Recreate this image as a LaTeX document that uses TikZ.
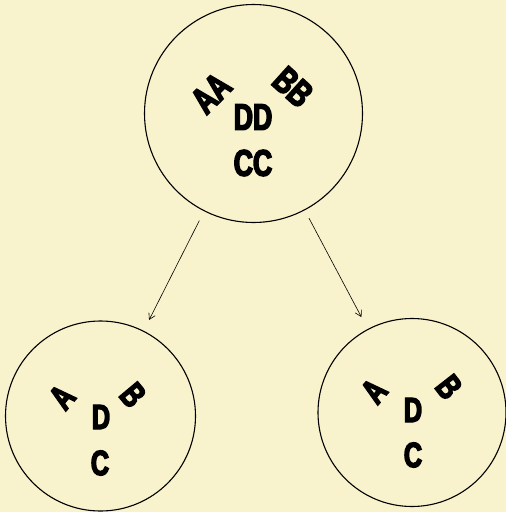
\documentclass[tikz,border=0pt]{standalone}
\usepackage{fontspec}
\newfontfamily\lett{Liberation Sans}[FakeStretch=0.72,FakeBold=4]
\usetikzlibrary{arrows.meta}
\definecolor{bg}{RGB}{248,242,205}
\begin{document}
\begin{tikzpicture}[x=1pt,y=-1pt,
  cell/.style={circle,draw,line width=1.1pt,inner sep=0pt,outer sep=0pt},
  lbl/.style={font=\lett\bfseries\fontsize{37}{37}\selectfont,inner sep=0pt},
  slbl/.style={font=\lett\bfseries\fontsize{35}{35}\selectfont,inner sep=0pt},
  link/.style={line width=0.6pt,-{Straight Barb[length=6pt,width=7pt]}}]
\useasboundingbox[fill=bg] (0,0) rectangle (506,512);
% circles
\node[cell,minimum size=218pt] (top) at (253.5,113.5) {};
\node[cell,minimum size=190pt] (left) at (100.5,416) {};
\node[cell,minimum size=188pt] (right) at (412,412.5) {};
% arrows
\draw[link,shorten <=11pt,shorten >=12.6pt] (top) -- (left);
\draw[link,shorten <=9.5pt,shorten >=14pt] (top) -- (right);
% top labels
\node[lbl,rotate=45] (ta) at (211,93) {AA};
\node[lbl,rotate=-42] (tb) at (293,87) {BB};
\node[lbl] (td) at (253,117) {DD};
\node[lbl] (tc) at (253,163) {CC};
% left labels
\node[slbl,rotate=50] (la) at (62,397) {A};
\node[slbl,rotate=-50] (lb) at (133,395) {B};
\node[slbl] (ld) at (101,417) {D};
\node[slbl] (lc) at (100,463) {C};
% right labels
\node[slbl,rotate=50] (ra) at (374,391) {A};
\node[slbl,rotate=-52] (rb) at (449,387) {B};
\node[slbl] (rd) at (413,410) {D};
\node[slbl] (rc) at (413,455) {C};
\end{tikzpicture}
\end{document}
